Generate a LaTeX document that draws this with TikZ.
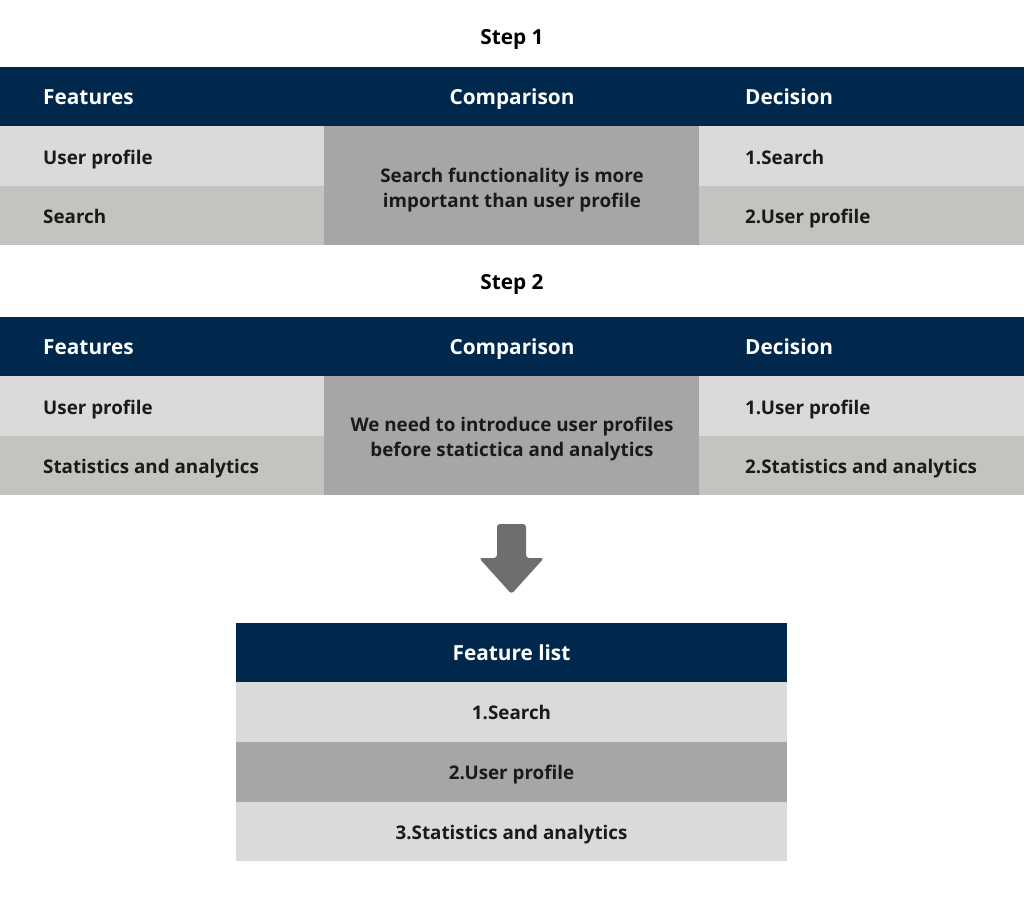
\documentclass[tikz,border=0pt]{standalone}
\usepackage{fontspec}
\setmainfont{Open Sans}
\definecolor{navy}{HTML}{00284D}
\definecolor{lightg}{HTML}{DADADA}
\definecolor{midg}{HTML}{C4C3C0}
\definecolor{darkg}{HTML}{A6A6A6}
\definecolor{arrowg}{HTML}{6E6E6E}
\definecolor{txt}{HTML}{1A1A1A}
\tikzset{
  cell/.style={anchor=north west, inner sep=0pt, outer sep=0pt, draw=none},
  lbl/.style={font=\fontsize{18.8}{24}\selectfont\bfseries, text=txt, inner sep=0pt, anchor=base},
  lblw/.style={lbl, anchor=base west},
  hlbl/.style={font=\fontsize{20.8}{26}\selectfont\bfseries, text=white, inner sep=0pt, anchor=base},
  hlblw/.style={hlbl, anchor=base west},
  ttl/.style={font=\fontsize{20.8}{26}\selectfont\bfseries, text=black, inner sep=0pt, anchor=base},
}
\begin{document}
\begin{tikzpicture}[x=1pt,y=-1pt]
\useasboundingbox[fill=white] (0,0) rectangle (1024,897);

% ---------- Step 1 ----------
\node[ttl] (t1) at (512,44.5) {Step 1};
\node[cell, fill=navy, minimum width=1024pt, minimum height=59pt] (h1) at (0,67) {};
\node[cell, fill=lightg, minimum width=324pt, minimum height=60pt] (a11) at (0,126) {};
\node[cell, fill=midg, minimum width=324pt, minimum height=59pt] (a12) at (0,186) {};
\node[cell, fill=darkg, minimum width=375pt, minimum height=119pt] (c1) at (324,126) {};
\node[cell, fill=lightg, minimum width=325pt, minimum height=60pt] (d11) at (699,126) {};
\node[cell, fill=midg, minimum width=325pt, minimum height=59pt] (d12) at (699,186) {};
\node[hlblw] (h1f) at (43,104.5) {Features};
\node[hlbl] (h1c) at (512,104.5) {Comparison};
\node[hlblw] (h1d) at (745,104.5) {Decision};
\node[lblw] (l11) at (43,164) {User profile};
\node[lblw] (l12) at (43,223) {Search};
\node[lbl] (m1a) at (512,182) {Search functionality is more};
\node[lbl] (m1b) at (512,207) {important than user profile};
\node[lblw] (r11) at (745,164) {1.Search};
\node[lblw] (r12) at (745,223) {2.User profile};

% ---------- Step 2 ----------
\node[ttl] (t2) at (512,289.5) {Step 2};
\node[cell, fill=navy, minimum width=1024pt, minimum height=59pt] (h2) at (0,317) {};
\node[cell, fill=lightg, minimum width=324pt, minimum height=60pt] (a21) at (0,376) {};
\node[cell, fill=midg, minimum width=324pt, minimum height=59pt] (a22) at (0,436) {};
\node[cell, fill=darkg, minimum width=375pt, minimum height=119pt] (c2) at (324,376) {};
\node[cell, fill=lightg, minimum width=325pt, minimum height=60pt] (d21) at (699,376) {};
\node[cell, fill=midg, minimum width=325pt, minimum height=59pt] (d22) at (699,436) {};
\node[hlblw] (h2f) at (43,354.5) {Features};
\node[hlbl] (h2c) at (512,354.5) {Comparison};
\node[hlblw] (h2d) at (745,354.5) {Decision};
\node[lblw] (l21) at (43,414) {User profile};
\node[lblw] (l22) at (43,473) {Statistics and analytics};
\node[lbl] (m2a) at (512,431) {We need to introduce user profiles};
\node[lbl] (m2b) at (512,456) {before statictica and analytics};
\node[lblw] (r21) at (745,414) {1.User profile};
\node[lblw] (r22) at (745,473) {2.Statistics and analytics};

% ---------- Arrow ----------
\fill[arrowg, rounded corners=3pt] (497,524) -- (526,524) -- (526,558) -- (544,558) -- (511.5,594) -- (479,558) -- (497,558) -- cycle;

% ---------- Feature list ----------
\node[cell, fill=navy, minimum width=551pt, minimum height=59pt] (fh) at (236,623) {};
\node[cell, fill=lightg, minimum width=551pt, minimum height=60pt] (f1) at (236,682) {};
\node[cell, fill=darkg, minimum width=551pt, minimum height=60pt] (f2) at (236,742) {};
\node[cell, fill=lightg, minimum width=551pt, minimum height=59pt] (f3) at (236,802) {};
\node[hlbl] (fht) at (511.5,660.5) {Feature list};
\node[lbl] (f1t) at (511.5,719) {1.Search};
\node[lbl] (f2t) at (511.5,779) {2.User profile};
\node[lbl] (f3t) at (511.5,839) {3.Statistics and analytics};
\end{tikzpicture}
\end{document}
